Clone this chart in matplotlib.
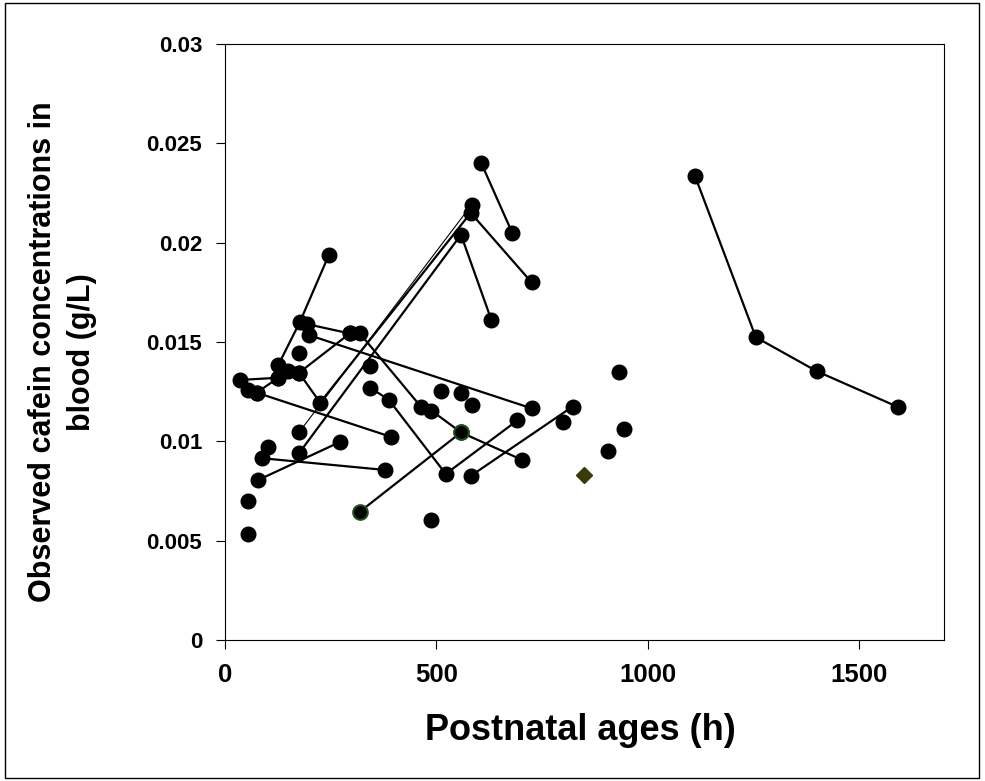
import numpy as np
import matplotlib
matplotlib.use("Agg")
from matplotlib import pyplot as plt
from matplotlib.patches import Rectangle

plt.rcParams['font.family'] = ['Liberation Sans', 'DejaVu Sans']
plt.rcParams['font.weight'] = 'bold'

# connected subjects (postnatal age h, concentration g/L)
s1_x = [35, 126]
s1_y = [0.01309, 0.0132]
s2_x = [75, 126]
s2_y = [0.01245, 0.0132]
s3_x = [126, 177, 246]
s3_y = [0.01384, 0.0160, 0.0194]
s4_x = [194, 295]
s4_y = [0.0159, 0.01543]
s5_x = [198, 725]
s5_y = [0.01535, 0.01166]
s6_x = [175, 295]
s6_y = [0.01345, 0.01543]
s7_x = [175, 225, 581, 725]
s7_y = [0.01345, 0.01195, 0.0215, 0.0180]
s8_x = [175, 558, 630]
s8_y = [0.0094, 0.0204, 0.0161]
s9_x = [606, 679]
s9_y = [0.0240, 0.0205]
s10_x = [1111, 1255, 1399, 1592]
s10_y = [0.02337, 0.01524, 0.01353, 0.01172]
s11_x = [75, 392]
s11_y = [0.01245, 0.01023]
s12_x = [88, 378]
s12_y = [0.00915, 0.00856]
s13_x = [78, 271]
s13_y = [0.00805, 0.00996]
s14_x = [319, 463]
s14_y = [0.01543, 0.01175]
s15_x = [343, 387, 522, 691]
s15_y = [0.0127, 0.0121, 0.00836, 0.01105]
s16_x = [488, 558, 703]
s16_y = [0.01155, 0.01045, 0.00906]
s17_x = [581, 822]
s17_y = [0.00826, 0.01175]
series = [(s1_x, s1_y), (s2_x, s2_y), (s3_x, s3_y), (s4_x, s4_y), (s5_x, s5_y),
          (s6_x, s6_y), (s7_x, s7_y), (s8_x, s8_y), (s9_x, s9_y), (s10_x, s10_y),
          (s11_x, s11_y), (s12_x, s12_y), (s13_x, s13_y), (s14_x, s14_y),
          (s15_x, s15_y), (s16_x, s16_y), (s17_x, s17_y)]

# thin line subject
thin_x = [175, 583]
thin_y = [0.01045, 0.0219]
# subject with green-edged markers
green_x = [319, 558]
green_y = [0.00646, 0.01045]
# single samples
single_x = [343, 175, 150, 102, 55, 55, 55, 486, 510, 559, 583, 798, 931, 943, 906]
single_y = [0.0138, 0.01447, 0.01356, 0.00974, 0.01258, 0.007, 0.00532, 0.00604,
            0.01253, 0.01245, 0.01183, 0.01095, 0.01351, 0.01064, 0.00953]
diamond_x = [849]
diamond_y = [0.0083]

y_ticks = [0, 0.005, 0.01, 0.015, 0.02, 0.025, 0.03]
y_labels = ['0', '0.005', '0.01', '0.015', '0.02', '0.025', '0.03']
x_ticks = [0, 500, 1000, 1500]

fig = plt.figure(figsize=(9.85, 7.81), dpi=100)
ax = fig.add_axes([0.2284, 0.1805, 0.73, 0.7632])

ax.plot(thin_x, thin_y, color='black', lw=0.8, marker='o', ms=10.5, mfc='black', mec='black')
for sx, sy in series:
    ax.plot(sx, sy, color='black', lw=1.6, marker='o', ms=10.5, mfc='black', mec='black')
ax.plot(green_x, green_y, color='black', lw=1.6, marker='o', ms=10.5, mfc='black',
        mec='#1e4d1e', mew=1.5)
ax.plot(single_x, single_y, ls='none', marker='o', ms=10.5, color='black')
ax.plot(diamond_x, diamond_y, ls='none', marker='D', ms=8, mfc='#3a3a0c', mec='#3a3a0c')

ax.set_xlim(0, 1700)
ax.set_ylim(0, 0.03)
ax.set_xticks(x_ticks)
ax.set_xticklabels([str(t) for t in x_ticks])
ax.set_yticks(y_ticks)
ax.set_yticklabels(y_labels)
ax.tick_params(direction='out', length=6.5, width=0.8, pad=10)
ax.tick_params(axis='x', labelsize=18.5)
ax.tick_params(axis='y', labelsize=16)
for sp in ax.spines.values():
    sp.set_linewidth(0.8)

ax.set_xlabel('Postnatal ages (h)', fontsize=26, fontweight='bold')
ax.xaxis.set_label_coords(0.494, -0.1225)
ax.set_ylabel('Observed cafein concentrations in\nblood (g/L)', fontsize=22,
              fontweight='bold', linespacing=1.4)
ax.yaxis.set_label_coords(-0.178, 0.483)

# outer frame around the whole figure
fig.patches.append(Rectangle((0.005, 0.004), 0.989, 0.992, transform=fig.transFigure,
                             fill=False, edgecolor='black', lw=1.0))

fig.savefig('out.png', dpi=100)
